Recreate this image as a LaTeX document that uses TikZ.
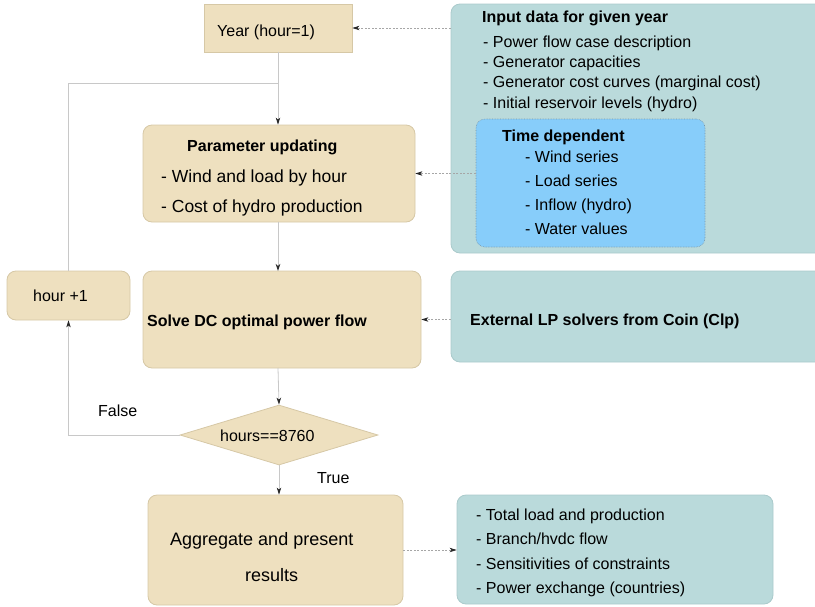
\documentclass[tikz,border=0pt]{standalone}
\usepackage{fontspec}
\setmainfont{Liberation Sans}
\usetikzlibrary{arrows.meta,shapes.geometric}

\definecolor{tanfill}{RGB}{238,224,191}
\definecolor{tanedge}{RGB}{214,200,166}
\definecolor{tealfill}{RGB}{186,218,219}
\definecolor{tealedge}{RGB}{170,202,203}
\definecolor{skyfill}{RGB}{135,205,250}
\definecolor{skyedge}{RGB}{120,150,170}
\definecolor{linegray}{RGB}{200,200,200}
\definecolor{tipgray}{RGB}{40,40,40}

\tikzset{
  x=1pt, y=-1pt,
  tanbox/.style={draw=tanedge, fill=tanfill, line width=0.8pt, inner sep=0pt},
  roundtan/.style={tanbox, rounded corners=9pt},
  tealbox/.style={draw=tealedge, fill=tealfill, line width=0.8pt, rounded corners=9pt, inner sep=0pt},
  skybox/.style={draw=skyedge, fill=skyfill, densely dotted, line width=0.6pt, rounded corners=9pt, inner sep=0pt},
  txt/.style={anchor=base west, inner sep=0pt, font=\fontsize{16}{19}\selectfont},
  btxt/.style={txt, font=\fontsize{16}{19}\selectfont\bfseries},
  conn/.style={draw=linegray, line width=0.8pt},
  arr/.style={conn, -{Stealth[length=7pt, width=4.5pt, inset=2pt, color=tipgray]}},
  dotarr/.style={arr, dash pattern=on 2pt off 1.5pt, draw=gray!70},
}

\begin{document}
\begin{tikzpicture}
\useasboundingbox (0,0) rectangle (815,606);
\clip (0,0) rectangle (815,606);

% boxes of the main flow
\node[tanbox, minimum width=148pt, minimum height=48pt] (yr) at (278,28) {};
\node[roundtan, minimum width=272pt, minimum height=97pt] (param) at (279,173.5) {};
\node[roundtan, minimum width=278pt, minimum height=97pt] (solve) at (282,319.5) {};
\node[roundtan, minimum width=123pt, minimum height=49pt] (hourp) at (68.5,295.5) {};
\node[diamond, draw=tanedge, fill=tanfill, line width=0.8pt, inner sep=0pt,
      minimum width=198pt, minimum height=60pt] (dia) at (279,435) {};
\node[roundtan, minimum width=255pt, minimum height=110pt] (aggr) at (275.5,550) {};

% data boxes on the right
\node[tealbox, minimum width=379pt, minimum height=249pt] (input) at (640.5,128.5) {};
\node[skybox, minimum width=229pt, minimum height=128pt] (timedep) at (590.5,183) {};
\node[tealbox, minimum width=379pt, minimum height=91pt] (extlp) at (640.5,316.5) {};
\node[tealbox, minimum width=316pt, minimum height=109pt] (outp) at (615,549.5) {};

% texts
\node[txt] (tyr) at (217,36) {Year (hour=1)};

\node[btxt] (tin) at (482,22) {Input data for given year};
\node[txt] (tin1) at (483,47) {- Power flow case description};
\node[txt] (tin2) at (483,67) {- Generator capacities};
\node[txt] (tin3) at (483,87.5) {- Generator cost curves (marginal cost)};
\node[txt] (tin4) at (483,108) {- Initial reservoir levels (hydro)};

\node[btxt] (ttd) at (502,141) {Time dependent};
\node[txt] (ttd1) at (525,162) {- Wind series};
\node[txt] (ttd2) at (525,186) {- Load series};
\node[txt] (ttd3) at (525,210.5) {- Inflow (hydro)};
\node[txt] (ttd4) at (525,234.5) {- Water values};

\node[btxt] (tpar) at (187,151) {Parameter updating};
\node[txt, font=\fontsize{17.5}{20}\selectfont] (tpar1) at (161,182) {- Wind and load by hour};
\node[txt, font=\fontsize{17.5}{20}\selectfont] (tpar2) at (161,212) {- Cost of hydro production};

\node[btxt] (tsol) at (147,326) {Solve DC optimal power flow};
\node[txt] (thr) at (33,301.5) {hour +1};
\node[txt] (tdia) at (220,441.5) {hours==8760};
\node[btxt] (text) at (470,325.5) {External LP solvers from Coin (Clp)};

\node[txt] (tfalse) at (98,416.5) {False};
\node[txt] (ttrue) at (317,483.5) {True};

\node[txt, font=\fontsize{18}{21}\selectfont] (tag1) at (170,545) {Aggregate and present};
\node[txt, font=\fontsize{18}{21}\selectfont] (tag2) at (245,581) {results};

\node[txt] (tout1) at (476,520) {- Total load and production};
\node[txt] (tout2) at (476,544.5) {- Branch/hvdc flow};
\node[txt] (tout3) at (476,569) {- Sensitivities of constraints};
\node[txt] (tout4) at (476,593) {- Power exchange (countries)};

% connectors of the main flow
\coordinate (join) at (278,83);
\draw[arr] (yr.south) -- (yr.south |- param.north);
\draw[conn] (hourp.north) |- (join);
\draw[arr] (278,222) -- (278,271);
\draw[arr] (278,368) -- (dia.north);
\draw[arr] (dia.west) -| (hourp.south);
\draw[arr] (dia.south) -- (dia.south |- aggr.north);

% dotted data connectors
\draw[dotarr] (input.west |- yr.east) -- (yr.east);
\draw[dotarr] (timedep.west |- param.east) -- (param.east);
\draw[dotarr] (extlp.west |- solve.east) -- (solve.east);
\draw[dotarr] (aggr.east) -- (aggr.east -| outp.west);
\end{tikzpicture}
\end{document}
